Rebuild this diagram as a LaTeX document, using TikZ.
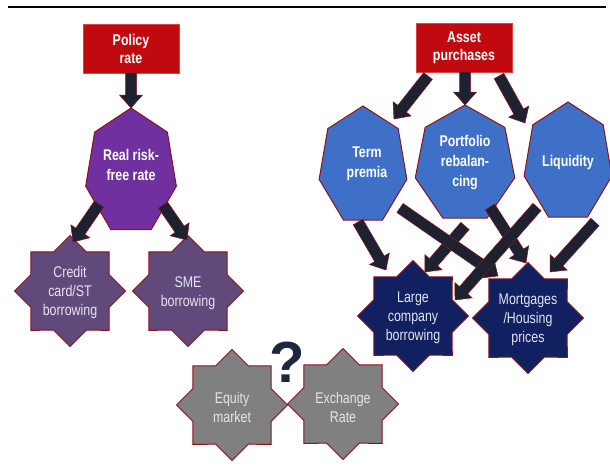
\documentclass[tikz,border=0pt]{standalone}
\usepackage{fontspec}
\setmainfont{Liberation Sans}
\newfontfamily\lblfont[FakeStretch=0.8]{Liberation Sans}
\usetikzlibrary{shapes.geometric,calc}
\definecolor{boxred}{RGB}{192,10,16}
\definecolor{boxedge}{RGB}{215,70,70}
\definecolor{edgered}{RGB}{140,20,25}
\definecolor{purpleA}{RGB}{112,48,160}
\definecolor{purpleB}{RGB}{96,74,123}
\definecolor{blueA}{RGB}{63,112,200}
\definecolor{navyA}{RGB}{16,32,96}
\definecolor{grayA}{RGB}{128,128,128}
\definecolor{arrowc}{RGB}{28,34,48}
\definecolor{qmark}{RGB}{30,40,60}
\definecolor{lbl}{RGB}{228,228,236}
\tikzset{
  redbox/.style={draw=boxedge, fill=boxred, line width=0.8pt, minimum width=96pt, minimum height=49pt, inner sep=0pt, align=center, text=white, font=\lblfont\bfseries\fontsize{15.5}{18}\selectfont},
  boldlbl/.style={align=center, text=white, font=\lblfont\bfseries\fontsize{15.5}{20}\selectfont},
  starlbl/.style={align=center, text=lbl, font=\lblfont\fontsize{15.5}{19}\selectfont},
  star8/.style={star, star points=8, star point ratio=1.307, minimum size=111pt, inner sep=0pt, draw=edgered, line width=1pt},
  heptline/.style={draw=edgered, line width=1pt, line join=miter},
  blockarr/.style={fill=arrowc, draw=edgered, line width=0.5pt, line join=miter}
}
\newcommand\heptagon[4]{%
  \filldraw[heptline, fill=#4, shift={(#1)}]
    (90:#2 and #3) -- (141.43:#2 and #3) -- (192.86:#2 and #3) -- (244.29:#2 and #3)
    -- (295.71:#2 and #3) -- (347.14:#2 and #3) -- (38.57:#2 and #3) -- cycle;}
\newcommand\blockarrow[2]{%
  \coordinate (bah) at ($(#2)!13pt!(#1)$);
  \filldraw[blockarr] ($(#1)!5.5pt!90:(#2)$) -- ($(bah)!5.5pt!90:(#2)$) -- ($(bah)!11.5pt!90:(#2)$)
    -- (#2) -- ($(bah)!11.5pt!-90:(#2)$) -- ($(bah)!5.5pt!-90:(#2)$) -- ($(#1)!5.5pt!-90:(#2)$) -- cycle;}
\begin{document}
\begin{tikzpicture}[x=1pt, y=-1pt]
\useasboundingbox (0,0) rectangle (610,472);
\fill[white] (0,0) rectangle (610,472);
\draw[line width=2.5pt] (8,7) -- (606,7);

% centres
\coordinate (rrc) at (131,172);
\coordinate (tpc) at (363,166);
\coordinate (pfc) at (465,164.5);
\coordinate (lqc) at (568,162.5);

% boxes
\node[redbox] (policy) at (131,48.5) {Policy\\rate};
\node[redbox] (asset) at (464,47.5) {Asset\\purchases};

% heptagons
\heptagon{rrc}{46.5pt}{64pt}{purpleA}
\heptagon{tpc}{45pt}{60pt}{blueA}
\heptagon{pfc}{51pt}{59.5pt}{blueA}
\heptagon{lqc}{45pt}{60.5pt}{blueA}
\node[boldlbl] (rr) at (131,165) {Real risk-\\free rate};
\node[boldlbl] (tp) at (367,164) {Term\\premia};
\node[boldlbl] (pf) at (465,163) {Portfolio\\rebalan-\\cing};
\node[boldlbl] (lq) at (568,162) {Liquidity};

% stars
\node[star8, fill=purpleB] (credit) at (70,291) {};
\node[star8, fill=purpleB] (sme) at (188,291) {};
\node[star8, fill=navyA] (large) at (413,316) {};
\node[star8, fill=navyA] (mort) at (528,318) {};
\node[star8, fill=grayA] (equity) at (232,405) {};
\node[star8, fill=grayA] (fx) at (343,404) {};
\node[starlbl] (creditt) at (70,292) {Credit\\card/ST\\borrowing};
\node[starlbl] (smet) at (188,293) {SME\\borrowing};
\node[starlbl] (larget) at (413,318) {Large\\company\\borrowing};
\node[starlbl] (mortt) at (528,320) {Mortgages\\/Housing\\prices};
\node[starlbl] (equityt) at (232,407) {Equity\\market};
\node[starlbl] (fxt) at (343,407) {Exchange\\Rate};
\node[text=qmark, font=\bfseries\fontsize{58}{58}\selectfont] (q) at (287,362) {?};

% arrow end points
\coordinate (p0) at (131,73);   \coordinate (p1) at (131,108);
\coordinate (r0) at (99,204);   \coordinate (r1) at (73,242);
\coordinate (s0) at (163,205);  \coordinate (s1) at (187,240);
\coordinate (a0) at (428,76);   \coordinate (a1) at (394,119);
\coordinate (b0) at (465,72);   \coordinate (b1) at (465,105);
\coordinate (c0) at (499,76);   \coordinate (c1) at (525,123);
\coordinate (t0) at (358,222);  \coordinate (t1) at (386,270);
\coordinate (u0) at (400,208);  \coordinate (u1) at (498,276);
\coordinate (v0) at (465,226);  \coordinate (v1) at (425,272);
\coordinate (w0) at (490,207);  \coordinate (w1) at (526,263);
\coordinate (l0) at (537,207);  \coordinate (l1) at (455,300);
\coordinate (m0) at (595,222);  \coordinate (m1) at (550,272);

\blockarrow{p0}{p1}
\blockarrow{r0}{r1}
\blockarrow{s0}{s1}
\blockarrow{a0}{a1}
\blockarrow{b0}{b1}
\blockarrow{c0}{c1}
\blockarrow{t0}{t1}
\blockarrow{v0}{v1}
\blockarrow{u0}{u1}
\blockarrow{w0}{w1}
\blockarrow{l0}{l1}
\blockarrow{m0}{m1}
\end{tikzpicture}
\end{document}
